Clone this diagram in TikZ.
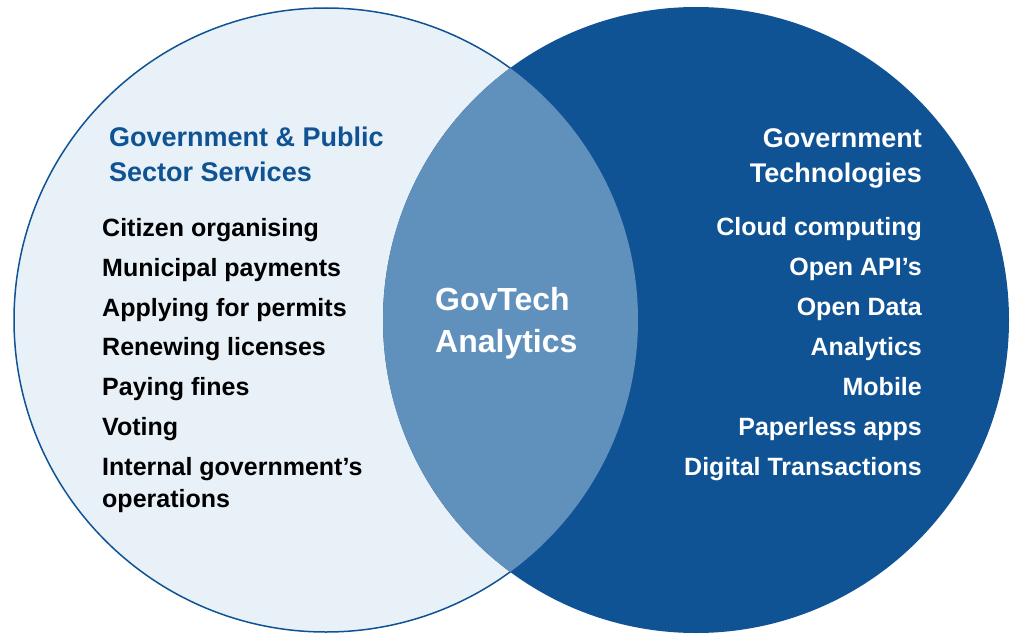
\documentclass[tikz,border=0pt]{standalone}
\usepackage{fontspec}
\setmainfont{Liberation Sans}
\usepackage{xcolor}
\usepackage{tikz}
\usetikzlibrary{positioning}
\definecolor{govblue}{HTML}{0F5394}
\definecolor{govpale}{HTML}{E8F0F8}
\definecolor{govmid}{HTML}{6090BC}

\begin{document}
\begin{tikzpicture}[x=1pt,y=-1pt]
  \tikzset{ hd/.style={inner sep=0pt,font=\fontsize{27}{27}\selectfont\bfseries},
    it/.style={inner sep=0pt,font=\fontsize{25}{25}\selectfont\bfseries},
    mid/.style={inner sep=0pt,white,anchor=base west,font=\fontsize{32}{32}\selectfont\bfseries},
  }
  \useasboundingbox (0,0) rectangle (1015,634);

  % the two sets and their overlap
  \fill[govpale,draw=govblue,line width=1.5pt] (326,320) circle (312pt);
  \fill[govblue] (696,320) circle (313pt);
  \begin{scope}
    \clip (326,320) circle (312pt);
    \fill[govmid] (696,320) circle (313pt);
  \end{scope}

  % left set
  \node[hd,govblue,anchor=base west] (lh1) at (109,146) {Government \& Public};
  \node[hd,govblue,anchor=base west] (lh2) at (109,181) {Sector Services};
  \node[it,anchor=base west] (l1) at (102,236) {Citizen organising};
  \node[it,anchor=base west] (l2) at (102,276) {Municipal payments};
  \node[it,anchor=base west] (l3) at (102,316) {Applying for permits};
  \node[it,anchor=base west] (l4) at (102,355) {Renewing licenses};
  \node[it,anchor=base west] (l5) at (102,395) {Paying fines};
  \node[it,anchor=base west] (l6) at (102,435) {Voting};
  \node[it,anchor=base west] (l7) at (102,475) {Internal government’s};
  \node[it,anchor=base west] (l8) at (102,507) {operations};

  % right set
  \node[hd,white,anchor=base east] (rh1) at (922,147) {Government};
  \node[hd,white,anchor=base east] (rh2) at (922,182) {Technologies};
  \node[it,white,anchor=base east] (r1) at (922,235) {Cloud computing};
  \node[it,white,anchor=base east] (r2) at (922,275) {Open API’s};
  \node[it,white,anchor=base east] (r3) at (922,315) {Open Data};
  \node[it,white,anchor=base east] (r4) at (922,355) {Analytics};
  \node[it,white,anchor=base east] (r5) at (922,395) {Mobile};
  \node[it,white,anchor=base east] (r6) at (922,435) {Paperless apps};
  \node[it,white,anchor=base east] (r7) at (922,475) {Digital Transactions};

  % overlap
  \node[mid] (c1) at (435,310) {GovTech};
  \node[mid] (c2) at (435,352) {Analytics};
\end{tikzpicture}
\end{document}
